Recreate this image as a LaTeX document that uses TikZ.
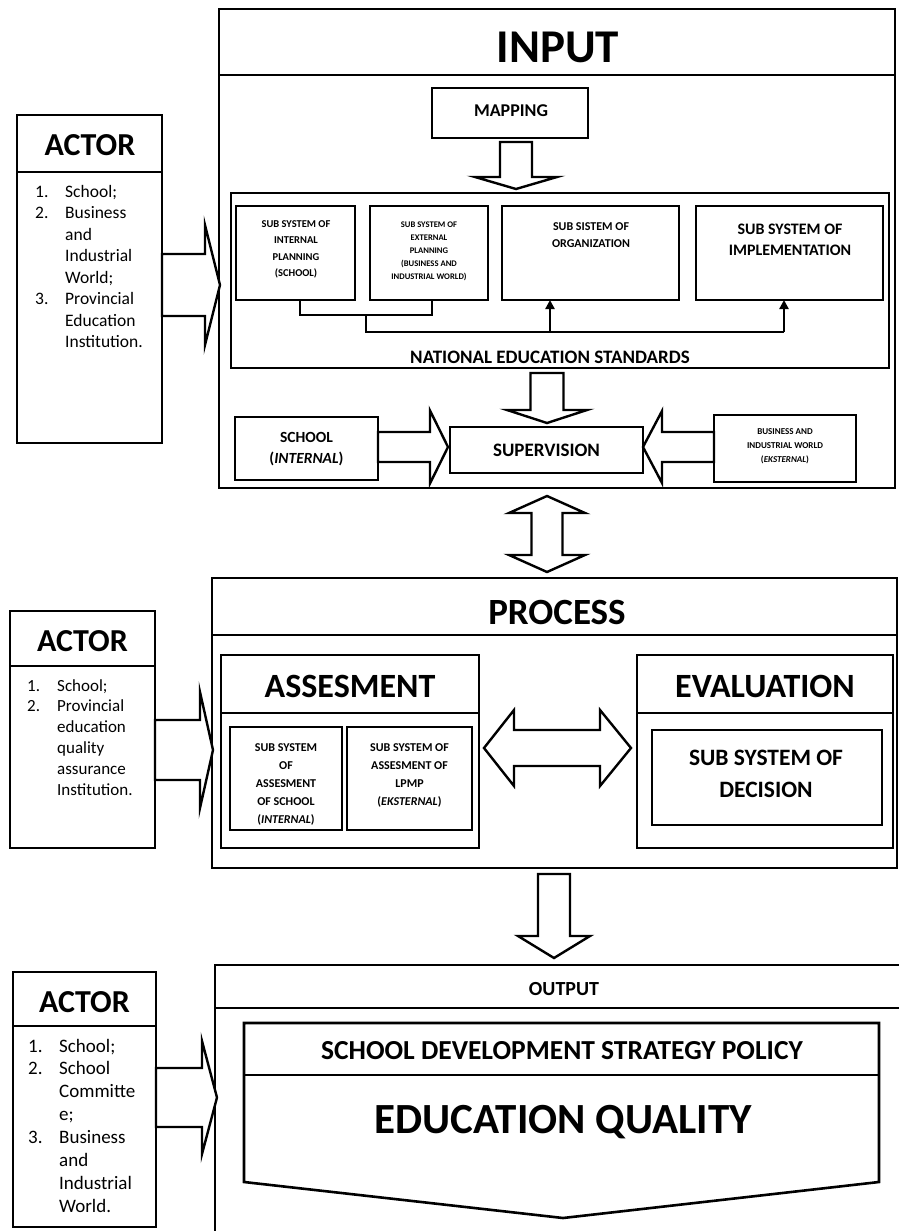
\documentclass[tikz,border=0pt]{standalone}
\usepackage{fontspec}
\setmainfont{Carlito}
\usetikzlibrary{arrows.meta}
\newcommand\Lc[1]{\vtop{\halign{\hfil##\hfil\cr#1\crcr}}}
\newcommand\Ll[1]{\vtop{\halign{##\hfil\cr#1\crcr}}}
\newcommand\fs[2]{\fontsize{#1}{#2}\selectfont}
\newcommand\harrow[6]{\draw[blk] (#1,{#4-#5}) -- (#2,{#4-#5}) -- (#2,{#4-#6}) -- (#3,#4) -- (#2,{#4+#6}) -- (#2,{#4+#5}) -- (#1,{#4+#5}) -- cycle;}
\newcommand\varrow[6]{\draw[blk] ({#1-#5},#2) -- ({#1-#5},#3) -- ({#1-#6},#3) -- (#1,#4) -- ({#1+#6},#3) -- ({#1+#5},#3) -- ({#1+#5},#2) -- cycle;}
\begin{document}
\begin{tikzpicture}[x=1pt,y=-1pt,
  box/.style={draw,line width=2.6pt,inner sep=0pt,outer sep=0pt,anchor=north west},
  blk/.style={draw,line width=2.4pt,fill=white,line join=miter},
  conn/.style={line width=2.4pt},
  tip/.style={-{Triangle[width=9pt,length=9pt]}},
  txt/.style={inner sep=0pt,anchor=base},
  ttl/.style={txt,font=\bfseries\fs{#1}{#1}},
  sm/.style 2 args={txt,font=\fs{#1}{#2}},
  sb/.style 2 args={txt,font=\bfseries\fs{#1}{#2}}]
\useasboundingbox (0,0) rectangle (898,1231);
\fill[white] (0,0) rectangle (898,1231);

% ---------------- INPUT ----------------
\node[box,minimum width=676pt,minimum height=479pt] (input) at (219,9) {};
\draw[conn,line width=2.6pt] (219,75) -- (895,75);
\node[ttl=47] (tinput) at (558,63) {INPUT};

\node[box,minimum width=145pt,minimum height=328pt] (actor1) at (17,115) {};
\draw[conn,line width=2.6pt] (17,172) -- (162,172);
\node[ttl=32] (tactor1) at (90,155) {ACTOR};
\node[sm={17.5}{21.5},anchor=base west] (a1n) at (35,197) {\Ll{1.\cr 2.\cr\cr\cr\cr 3.}};
\node[sm={17.5}{21.5},anchor=base west] (a1t) at (65,197) {\Ll{School;\cr Business\cr and\cr Industrial\cr World;\cr Provincial\cr Education\cr Institution.}};

\node[box,minimum width=156pt,minimum height=50pt] (mapping) at (432,88) {};
\node[ttl=18] (tmapping) at (511,116) {MAPPING};

\node[box,minimum width=658pt,minimum height=175pt] (nes) at (231,193) {};
\node[box,minimum width=119pt,minimum height=94pt] (intp) at (236,206) {};
\node[box,minimum width=118pt,minimum height=94pt] (extp) at (370,206) {};
\node[box,minimum width=177pt,minimum height=94pt] (org) at (502,206) {};
\node[box,minimum width=187pt,minimum height=94pt] (impl) at (696,206) {};
\node[sb={10.5}{16.5}] (tintp) at (296,227) {\Lc{SUB SYSTEM OF\cr INTERNAL\cr PLANNING\cr (SCHOOL)}};
\node[sb={8.6}{13}] (textp) at (429,227) {\Lc{SUB SYSTEM OF\cr EXTERNAL\cr PLANNING\cr (BUSINESS AND\cr INDUSTRIAL WORLD)}};
\node[sb={12}{17}] (torg) at (591,230) {\Lc{SUB SISTEM OF\cr ORGANIZATION}};
\node[sb={16}{21}] (timpl) at (790,234) {\Lc{SUB SYSTEM OF\cr IMPLEMENTATION}};
\node[ttl=19] (tnes) at (550,363) {NATIONAL EDUCATION STANDARDS};

\coordinate (bl) at (300,315);
\coordinate (br) at (432,315);
\coordinate (bm) at (366,315);
\coordinate (bm2) at (366,332);
\coordinate (bo) at (550,332);
\coordinate (bi) at (784,332);
\draw[conn] (intp.south -| bl) -- (bl) -- (br) -- (extp.south -| br);
\draw[conn] (bm) -- (bm2) -- (bi);
\draw[conn,tip] (bo) -- (org.south -| bo);
\draw[conn,tip] (bi) -- (impl.south -| bi);

\node[box,minimum width=143pt,minimum height=63pt] (school) at (235,417) {};
\node[box,minimum width=193pt,minimum height=46pt] (superv) at (450,427) {};
\node[box,minimum width=142pt,minimum height=67pt] (biz) at (714,415) {};
\node[sb={15.5}{21}] (tschool) at (306.5,442) {\Lc{SCHOOL\cr (\textit{INTERNAL})}};
\node[ttl=19] (tsuperv) at (546.5,456) {SUPERVISION};
\node[sb={9}{14}] (tbiz) at (785,434) {\Lc{BUSINESS AND\cr INDUSTRIAL WORLD\cr (\textit{EKSTERNAL})}};

% arrows in INPUT
\varrow{516}{142}{177}{189}{16}{41}
\varrow{547}{373}{410}{423}{16.5}{40}
\harrow{162}{205}{220}{285}{31}{60}
\harrow{378}{430}{448}{447}{15}{36.5}
\harrow{714}{662}{643}{447}{15}{36}

% double arrow INPUT <-> PROCESS
\draw[blk] (547,496) -- (585,513) -- (562.5,513) -- (562.5,555) -- (585,555) -- (547,572) -- (509,555) -- (531.5,555) -- (531.5,513) -- (509,513) -- cycle;

% ---------------- PROCESS ----------------
\node[box,minimum width=685pt,minimum height=290pt] (process) at (212,578) {};
\draw[conn,line width=2.6pt] (212,635) -- (897,635);
\node[ttl=37] (tprocess) at (557,624) {PROCESS};

\node[box,minimum width=145pt,minimum height=237pt] (actor2) at (10,611) {};
\draw[conn,line width=2.6pt] (10,666) -- (155,666);
\node[ttl=32] (tactor2) at (82.5,651) {ACTOR};
\node[sm={17}{20.8},anchor=base west] (a2n) at (27,691) {\Ll{1.\cr 2.}};
\node[sm={17}{20.8},anchor=base west] (a2t) at (57,691) {\Ll{School;\cr Provincial\cr education\cr quality\cr assurance\cr Institution.}};
\harrow{155}{200}{213}{750}{30}{58}

\node[box,minimum width=258pt,minimum height=193pt] (asses) at (221,655) {};
\draw[conn,line width=2.6pt] (221,713) -- (479,713);
\node[ttl=34] (tasses) at (350,697) {ASSESMENT};
\node[box,minimum width=112pt,minimum height=103pt] (as1) at (230,727) {};
\node[box,minimum width=125pt,minimum height=103pt] (as2) at (347,727) {};
\node[sb={12}{18}] (tas1) at (286,751) {\Lc{SUB SYSTEM\cr OF\cr ASSESMENT\cr OF SCHOOL\cr (\textit{INTERNAL})}};
\node[sb={12}{18}] (tas2) at (409.5,751) {\Lc{SUB SYSTEM OF\cr ASSESMENT OF\cr LPMP\cr (\textit{EKSTERNAL})}};

\node[box,minimum width=256pt,minimum height=193pt] (eval) at (637,655) {};
\draw[conn,line width=2.6pt] (637,713) -- (893,713);
\node[ttl=34] (teval) at (765,697) {EVALUATION};
\node[box,minimum width=230pt,minimum height=95pt] (decision) at (652,730) {};
\node[sb={23.5}{32}] (tdecision) at (766,765) {\Lc{SUB SYSTEM OF\cr DECISION}};

\draw[blk] (484,748) -- (514,710) -- (514,730) -- (600,730) -- (600,710) -- (631,748) -- (600,786) -- (600,766) -- (514,766) -- (514,786) -- cycle;

\varrow{554}{874}{936}{958}{16}{36}

% ---------------- OUTPUT ----------------
\node[box,minimum width=690pt,minimum height=290pt] (output) at (215,965) {};
\draw[conn,line width=2.6pt] (215,1008) -- (905,1008);
\node[ttl=20] (toutput) at (564,995) {OUTPUT};
\draw[line width=2.6pt,line join=miter] (244,1023) -- (879,1023) -- (879,1182) -- (563,1218) -- (244,1182) -- cycle;
\draw[conn,line width=2.6pt] (244,1075) -- (879,1075);
\node[ttl=27.5] (tsdsp) at (562,1059) {SCHOOL DEVELOPMENT STRATEGY POLICY};
\node[ttl=43] (teq) at (563,1133) {EDUCATION QUALITY};

\node[box,minimum width=143pt,minimum height=255pt] (actor3) at (13,972) {};
\draw[conn,line width=2.6pt] (13,1026) -- (156,1026);
\node[ttl=32] (tactor3) at (84.5,1012) {ACTOR};
\node[sm={19}{22.9},anchor=base west] (a3n) at (28,1052) {\Ll{1.\cr 2.\cr\cr\cr 3.}};
\node[sm={19}{22.9},anchor=base west] (a3t) at (59,1052) {\Ll{School;\cr School\cr Committe\cr e;\cr Business\cr and\cr Industrial\cr World.}};
\harrow{156}{202}{217}{1097.5}{29.5}{56.5}
\end{tikzpicture}
\end{document}
